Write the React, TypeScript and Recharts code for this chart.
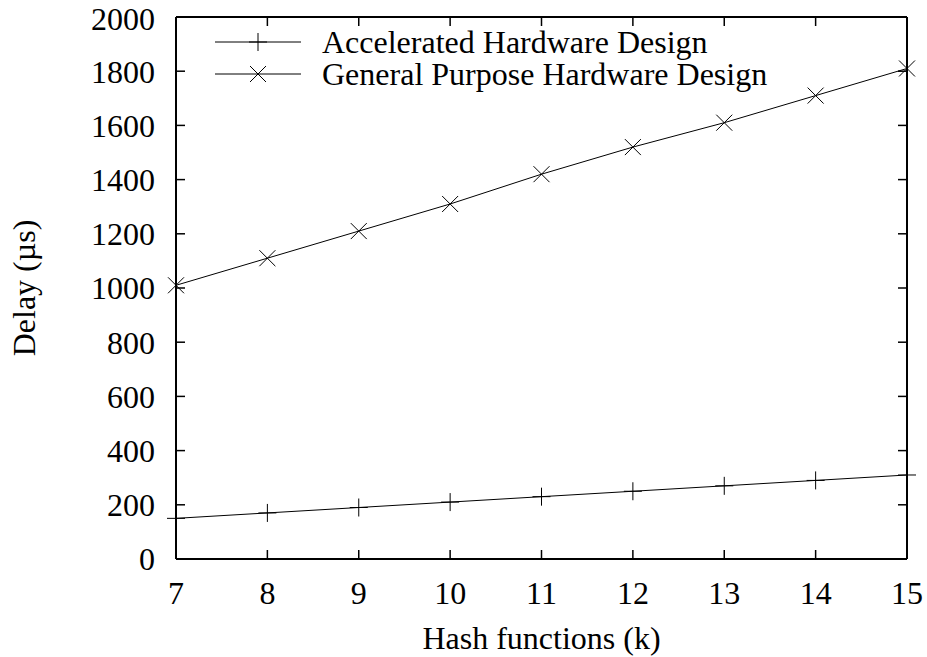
import { LineChart, Line, XAxis, YAxis, Legend, Label } from 'recharts'

const hashFunctions = [7, 8, 9, 10, 11, 12, 13, 14, 15]
const acceleratedDelay = [150, 170, 190, 210, 230, 250, 270, 290, 310]
const generalDelay = [1010, 1110, 1210, 1310, 1420, 1520, 1610, 1710, 1810]
const yTicks = [0, 200, 400, 600, 800, 1000, 1200, 1400, 1600, 1800, 2000]

const data = hashFunctions.map((k, i) => ({
  k,
  accelerated: acceleratedDelay[i],
  general: generalDelay[i],
}))

const FONT = '"Liberation Serif", "DejaVu Serif", serif'
const FS = 32
const tickStyle = { fontSize: FS, fill: '#000', fontFamily: FONT }
const frameLine = { stroke: '#000', strokeWidth: 2 }
const tickMark = { stroke: '#000', strokeWidth: 1.5 }

function PlusDot(props: any) {
  const { cx, cy } = props
  if (cx == null || cy == null) return null
  return (
    <g stroke="#000" strokeWidth={1}>
      <line x1={cx - 9} y1={cy} x2={cx + 9} y2={cy} />
      <line x1={cx} y1={cy - 9} x2={cx} y2={cy + 9} />
    </g>
  )
}

function CrossDot(props: any) {
  const { cx, cy } = props
  if (cx == null || cy == null) return null
  return (
    <g stroke="#000" strokeWidth={1}>
      <line x1={cx - 8} y1={cy - 8} x2={cx + 8} y2={cy + 8} />
      <line x1={cx - 8} y1={cy + 8} x2={cx + 8} y2={cy - 8} />
    </g>
  )
}

function renderLegend() {
  const rows = [
    { name: 'Accelerated Hardware Design', y: 42, Dot: PlusDot },
    { name: 'General Purpose Hardware Design', y: 74, Dot: CrossDot },
  ]
  return (
    <svg width={927} height={100} style={{ display: 'block' }}>
      {rows.map(({ name, y, Dot }) => (
        <g key={name}>
          <line x1={215} y1={y} x2={301} y2={y} stroke="#000" strokeWidth={1} />
          <Dot cx={258} cy={y} />
          <text x={322} y={y + 11} fontSize={FS} fontFamily={FONT} fill="#000">
            {name}
          </text>
        </g>
      ))}
    </svg>
  )
}

export default function App() {
  return (
    <div style={{ position: 'absolute', left: 0, top: 0, width: 927, height: 657, background: '#fff' }}>
      <LineChart
        width={927}
        height={657}
        data={data}
        margin={{ top: 16, right: 19, bottom: 0, left: 0 }}
        style={{ fontFamily: FONT }}
      >
        <XAxis
          xAxisId="b"
          dataKey="k"
          type="number"
          domain={[7, 15]}
          ticks={hashFunctions}
          height={98}
          tickSize={-9}
          tickMargin={31}
          tick={tickStyle}
          axisLine={frameLine}
          tickLine={tickMark}
        >
          <Label
            value="Hash functions (k)"
            position="insideBottom"
            offset={8}
            style={{ fontSize: FS, fill: '#000', fontFamily: FONT }}
          />
        </XAxis>
        <XAxis
          xAxisId="t"
          dataKey="k"
          type="number"
          orientation="top"
          domain={[7, 15]}
          ticks={hashFunctions}
          height={1}
          tickSize={-9}
          tickFormatter={() => ''}
          axisLine={frameLine}
          tickLine={tickMark}
        />
        <YAxis
          yAxisId="l"
          type="number"
          domain={[0, 2000]}
          ticks={yTicks}
          width={176}
          tickSize={-9}
          tickMargin={30}
          tick={tickStyle}
          axisLine={frameLine}
          tickLine={tickMark}
        >
          <Label
            content={(props: any) => {
              const vb = props.viewBox || {}
              const x = 24
              const y = (vb.y ?? 17) + (vb.height ?? 542) / 2
              return (
                <text
                  x={x}
                  y={y}
                  transform={`rotate(-90, ${x}, ${y})`}
                  textAnchor="middle"
                  dominantBaseline="central"
                  fontSize={FS}
                  fontFamily={FONT}
                  fill="#000"
                >
                  Delay (µs)
                </text>
              )
            }}
          />
        </YAxis>
        <YAxis
          yAxisId="r"
          type="number"
          orientation="right"
          domain={[0, 2000]}
          ticks={yTicks}
          width={1}
          tickSize={-9}
          tickFormatter={() => ''}
          axisLine={frameLine}
          tickLine={tickMark}
        />
        <Legend
          layout="vertical"
          align="center"
          verticalAlign="middle"
          content={renderLegend}
          wrapperStyle={{ position: 'absolute', left: 0, top: 0, width: 927, height: 100 }}
        />
        {/* invisible copy so the mirrored frame axes have a series bound to them */}
        <Line
          xAxisId="t"
          yAxisId="r"
          dataKey="general"
          stroke="none"
          dot={false}
          activeDot={false}
          legendType="none"
          isAnimationActive={false}
        />
        <Line
          xAxisId="b"
          yAxisId="l"
          dataKey="accelerated"
          name="Accelerated Hardware Design"
          stroke="#000"
          strokeWidth={1}
          dot={<PlusDot />}
          activeDot={false}
          isAnimationActive={false}
        />
        <Line
          xAxisId="b"
          yAxisId="l"
          dataKey="general"
          name="General Purpose Hardware Design"
          stroke="#000"
          strokeWidth={1}
          dot={<CrossDot />}
          activeDot={false}
          isAnimationActive={false}
        />
      </LineChart>
    </div>
  )
}
